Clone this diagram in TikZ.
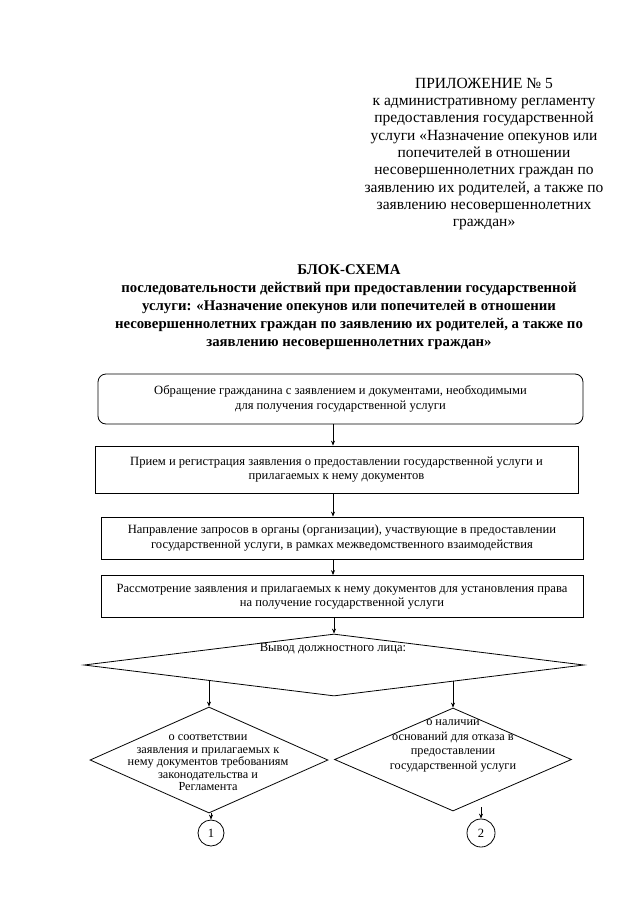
\documentclass[tikz,border=0pt]{standalone}
\usepackage{fontspec}
\setmainfont{Liberation Serif}
\usetikzlibrary{shapes.geometric,arrows.meta}
\begin{document}
\begin{tikzpicture}[x=1pt,y=-1pt,
  every node/.style={inner sep=0pt},
  boxtext/.style={font=\fontsize{12.6}{14.5}\selectfont},
  stepbox/.style={draw, line width=0.8pt, align=center, boxtext},
  decision/.style={draw, diamond, line width=0.8pt, inner sep=0pt},
  conn/.style={draw, circle, line width=0.8pt, boxtext},
  arr/.style={-{Stealth[length=5pt,width=4pt]}, line width=0.7pt}]
\useasboundingbox[fill=white] (0,0) rectangle (640,902);

\node[align=center, font=\fontsize{15.5}{17.3}\selectfont] (hdr) at (484,154)
  {ПРИЛОЖЕНИЕ № 5\\
   к административному регламенту\\
   предоставления государственной\\
   услуги «Назначение опекунов или\\
   попечителей в отношении\\
   несовершеннолетних граждан по\\
   заявлению их родителей, а также по\\
   заявлению несовершеннолетних\\
   граждан»};

\node[align=center, font=\fontsize{14.8}{18}\selectfont\bfseries] (ttl) at (349,307)
  {БЛОК-СХЕМА\\
   последовательности действий при предоставлении государственной\\
   услуги: «Назначение опекунов или попечителей в отношении\\
   несовершеннолетних граждан по заявлению их родителей, а также по\\
   заявлению несовершеннолетних граждан»};

\node[stepbox, rounded corners=8pt, minimum width=485pt, minimum height=50pt] (b1) at (340.5,399)
  {Обращение гражданина с заявлением и документами, необходимыми\\
   для получения государственной услуги};
\node[stepbox, minimum width=483pt, minimum height=47pt] (b2) at (336.5,469.5)
  {Прием и регистрация заявления о предоставлении государственной услуги и\\
   прилагаемых к нему документов};
\node[stepbox, minimum width=482pt, minimum height=42pt] (b3) at (342,538)
  {Направление запросов в органы (организации), участвующие в предоставлении\\
   государственной услуги, в рамках межведомственного взаимодействия};
\node[stepbox, minimum width=482pt, minimum height=42pt] (b4) at (342,596.5)
  {Рассмотрение заявления и прилагаемых к нему документов для установления права\\
   на получение государственной услуги};

\node[decision, minimum width=500pt, minimum height=62pt] (dd) at (334,665) {};
\node[boxtext] (ddt) at (333,649) {Вывод должностного лица:};

\node[decision, minimum width=238pt, minimum height=106pt] (d1) at (209,760) {};
\node[align=center, font=\fontsize{12.3}{12.5}\selectfont] (d1t) at (208,763)
  {о соответствии\\
   заявления и прилагаемых к\\
   нему документов требованиям\\
   законодательства и\\
   Регламента};

\node[decision, minimum width=237pt, minimum height=103pt] (d2) at (453,759.5) {};
\node[align=center, font=\fontsize{12.3}{14.6}\selectfont] (d2t) at (453,746)
  {о наличии\\
   оснований для отказа в\\
   предоставлении\\
   государственной услуги};

\node[conn, minimum size=26pt] (c1) at (211,833) {1};
\node[conn, minimum size=28pt] (c2) at (481,833) {2};
\coordinate (c2in) at (481,807);

\coordinate (ax) at (333,0);
\draw[arr] (b1.south -| ax) -- (b2.north -| ax);
\draw[arr] (b2.south -| ax) -- (b3.north -| ax);
\draw[arr] (b3.south -| ax) -- (b4.north -| ax);
\draw[arr] (b4.south -| dd.north) -- (dd.north);
\draw[arr] (d1.north |- dd.south west) -- (d1.north);
\draw[arr] (d2.north |- dd.south east) -- (d2.north);
\draw[arr] (c1.north |- d1.south) -- (c1.north);
\draw[arr] (c2in) -- (c2.north);
\end{tikzpicture}
\end{document}
